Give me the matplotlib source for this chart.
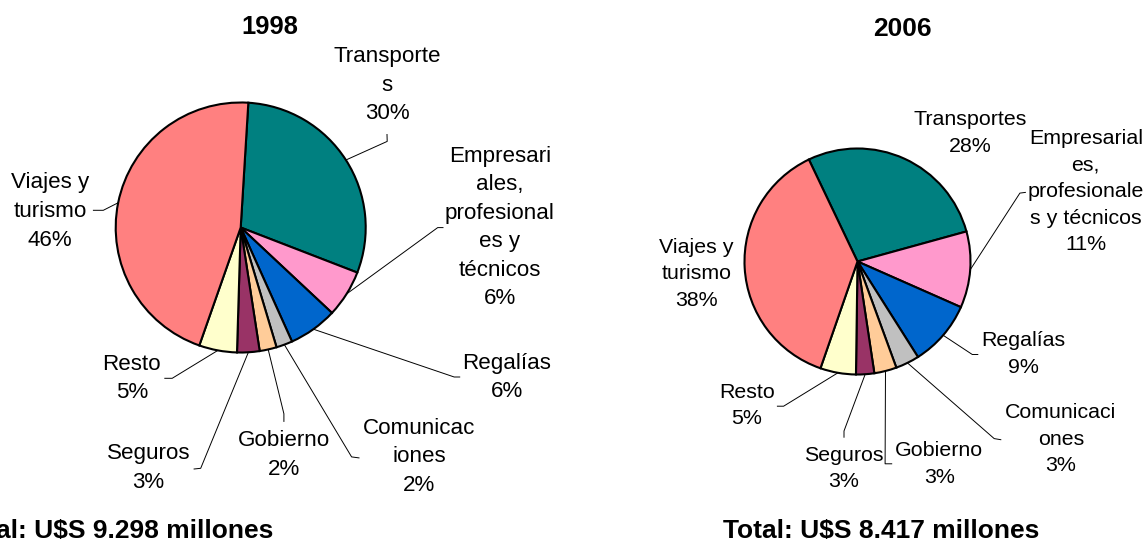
import matplotlib
matplotlib.use("Agg")
import matplotlib.pyplot as plt
import numpy as np

# Data
names_1998 = ["Transporte\ns", "Empresari\nales,\nprofesional\nes y\ntécnicos", "Regalías",
              "Comunicac\niones", "Gobierno", "Seguros", "Resto", "Viajes y\nturismo"]
shares_1998 = [29.9, 6.1, 6.3, 2.1, 2.2, 2.9, 4.9, 45.6]

names_2006 = ["Transportes", "Empresarial\nes,\nprofesionale\ns y técnicos", "Regalías",
              "Comunicaci\nones", "Gobierno", "Seguros", "Resto", "Viajes y\nturismo"]
shares_2006 = [27.8, 10.9, 9.4, 3.4, 3.2, 2.6, 5.1, 37.6]

colors = ["#008080", "#FF99CC", "#0066CC", "#C0C0C0", "#FFCC99", "#993366", "#FFFFCC", "#FF8080"]

W, H = 1146, 539


def main():
    fig = plt.figure(figsize=(W / 100, H / 100), dpi=100)
    ax = fig.add_axes([0, 0, 1, 1])

    # layout in pixel coords (from top-left)
    charts = [
        {
            "shares": shares_1998, "names": names_1998, "center": (240.7, 227.5), "radius": 125,
            "start": 86.5, "fs": 16.1, "ls": 1.47,
            "title": "1998", "title_pos": (270, 34.5), "title_fs": 18.4,
            "total": "Total: U$S 9.298 millones", "total_pos": (115, 538),
            "label_pos": [(387, 85.4), (500, 227.6), (507, 377.3), (419.4, 456.9),
                          (283.9, 454.9), (148.4, 468.1), (131.9, 378.5), (50.2, 211.5)],
            "leaders": [((387.2, 141.4), (387, 134.5)), ((437.7, 227.6), (443, 227.6)),
                        ((454.2, 377), (459.7, 377)), ((351.6, 456.9), (359, 457.9)),
                        ((283.9, 413.8), (283.9, 421.4)), ((200.7, 468.3), (194.1, 469)),
                        ((172.2, 378.3), (164.8, 378.3)), ((103.3, 210.3), (93.4, 210.3))],
        },
        {
            "shares": shares_2006, "names": names_2006, "center": (857.5, 261.5), "radius": 113,
            "start": 115.5, "fs": 15.4, "ls": 1.5,
            "title": "2006", "title_pos": (902.7, 36), "title_fs": 19,
            "total": "Total: U$S 8.417 millones", "total_pos": (881, 538),
            "label_pos": [(970.4, 132.8), (1085.8, 191.9), (1023.5, 354), (1060.9, 439.1),
                          (939.3, 463.8), (844, 468.6), (747, 405.7), (696.4, 273.6)],
            "leaders": [None, ((1019.9, 193.1), (1025.4, 192.4)),
                        ((972.3, 354.5), (977.8, 354.5)), ((994.2, 438.6), (1000.8, 439.7)),
                        ((885.1, 463.8), (891.7, 463.8)), ((844, 431), (844, 437.2)),
                        ((783.6, 406.2), (777.4, 406.2)), None],
        },
    ]

    for c in charts:
        cx, cy = c["center"]
        wedges, _ = ax.pie(c["shares"], colors=colors, startangle=c["start"], counterclock=False,
                           center=(cx, H - cy), radius=c["radius"],
                           wedgeprops=dict(edgecolor="black", linewidth=1.5))
        for i, w in enumerate(wedges):
            txt = f"{c['names'][i]}\n{round(c['shares'][i])}%"
            lx, ly = c["label_pos"][i]
            ax.text(lx, H - ly, txt, ha="center", va="center", multialignment="center",
                    fontsize=c["fs"], family="Liberation Sans", linespacing=c["ls"])
            ld = c["leaders"][i]
            if ld is not None:
                mid = np.deg2rad((w.theta1 + w.theta2) / 2)
                ex = cx + c["radius"] * np.cos(mid)
                ey = (H - cy) + c["radius"] * np.sin(mid)
                (bx, by), (tx, ty) = ld
                ax.plot([ex, bx, tx], [ey, H - by, H - ty], color="black", linewidth=0.7)
        tx, ty = c["title_pos"]
        ax.text(tx, H - ty, c["title"], ha="center", va="baseline", fontsize=c["title_fs"],
                fontweight="bold", family="Liberation Sans")
        sx, sy = c["total_pos"]
        ax.text(sx, H - sy, c["total"], ha="center", va="baseline", fontsize=19,
                fontweight="bold", family="Liberation Sans")

    ax.set_xlim(0, W)
    ax.set_ylim(0, H)
    ax.set_aspect("equal")
    ax.axis("off")
    fig.savefig("out.png", dpi=100)


if __name__ == "__main__":
    main()
